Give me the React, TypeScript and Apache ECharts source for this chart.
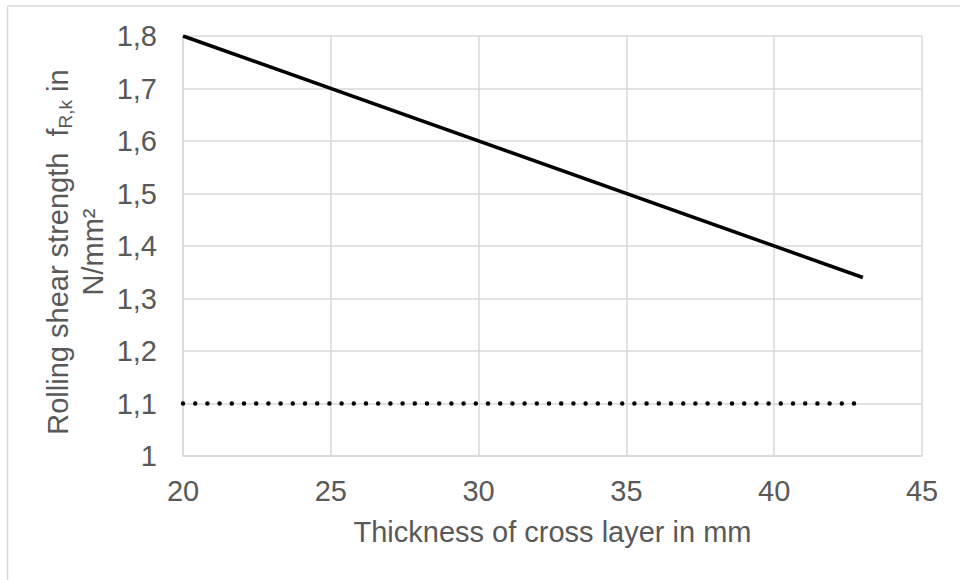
import React, { useEffect, useRef } from "react";
import * as echarts from "echarts";

const thickness = [20, 43];
const rollingShear = [1.8, 1.34];
const limitValue = [1.1, 1.1];
const xTicks = { min: 20, max: 45, interval: 5 };
const yTicks = { min: 1, max: 1.8, interval: 0.1 };
const xTitle = "Thickness of cross layer in mm";
const yTitleMain = "Rolling shear strength  f";
const yTitleSub = "R,k";
const yTitleEnd = " in";
const yTitleUnit = "N/mm²";

const FONT = "'Liberation Sans', Arial, sans-serif";
const GRAY = "#595959";
const GRID = "#d9d9d9";
const FS = 29;

export default function App() {
  const ref = useRef<HTMLDivElement>(null);
  useEffect(() => {
    if (!ref.current) return;
    const chart = echarts.init(ref.current, undefined, { renderer: "svg" });
    chart.setOption({
      animation: false,
      backgroundColor: "#ffffff",
      textStyle: { fontFamily: FONT },
      grid: { left: 183, right: 38, top: 36, bottom: 124, containLabel: false },
      xAxis: {
        type: "value",
        min: xTicks.min,
        max: xTicks.max,
        interval: xTicks.interval,
        name: xTitle,
        nameLocation: "middle",
        nameGap: 61,
        nameTextStyle: { color: GRAY, fontSize: FS, fontFamily: FONT },
        axisLine: { show: true, lineStyle: { color: GRID, width: 1.5 } },
        axisTick: { show: false },
        axisLabel: { color: GRAY, fontSize: FS, margin: 20, fontFamily: FONT },
        splitLine: { show: true, lineStyle: { color: GRID, width: 1.5 } },
      },
      yAxis: {
        type: "value",
        min: yTicks.min,
        max: yTicks.max,
        interval: yTicks.interval,
        axisLine: { show: true, lineStyle: { color: GRID, width: 1.5 } },
        axisTick: { show: false },
        axisLabel: {
          color: GRAY,
          fontSize: FS,
          margin: 26,
          fontFamily: FONT,
          formatter: (v: number) => String(Number(v.toFixed(1))).replace(".", ","),
        },
        splitLine: { show: true, lineStyle: { color: GRID, width: 1.5 } },
      },
      graphic: [
        {
          type: "line",
          shape: { x1: 7.5, y1: 6, x2: 7.5, y2: 600 },
          style: { stroke: GRID, lineWidth: 1.5 },
        },
        {
          type: "line",
          shape: { x1: 7.5, y1: 6, x2: 980, y2: 6 },
          style: { stroke: GRID, lineWidth: 1.5 },
        },
        {
          type: "text",
          x: 75,
          y: 252,
          rotation: Math.PI / 2,
          style: {
            text: `{a|${yTitleMain}}{s|${yTitleSub}}{a|${yTitleEnd}}\n{a|${yTitleUnit}}`,
            align: "center",
            verticalAlign: "middle",
            rich: {
              a: { fontSize: FS, lineHeight: 35, fill: GRAY, fontFamily: FONT },
              s: { fontSize: 19, lineHeight: 19, fill: GRAY, fontFamily: FONT, verticalAlign: "bottom" },
            },
          },
        },
      ],
      series: [
        {
          type: "line",
          data: thickness.map((x, i) => [x, rollingShear[i]]),
          showSymbol: false,
          lineStyle: { color: "#000000", width: 3.5 },
        },
        {
          type: "line",
          data: thickness.map((x, i) => [x, limitValue[i]]),
          showSymbol: false,
          lineStyle: { color: "#000000", width: 4.5, type: [0, 12.2], cap: "round" },
        },
      ],
    });
    return () => chart.dispose();
  }, []);
  return (
    <div
      ref={ref}
      style={{ position: "fixed", left: 0, top: 0, width: 960, height: 580 }}
    />
  );
}
